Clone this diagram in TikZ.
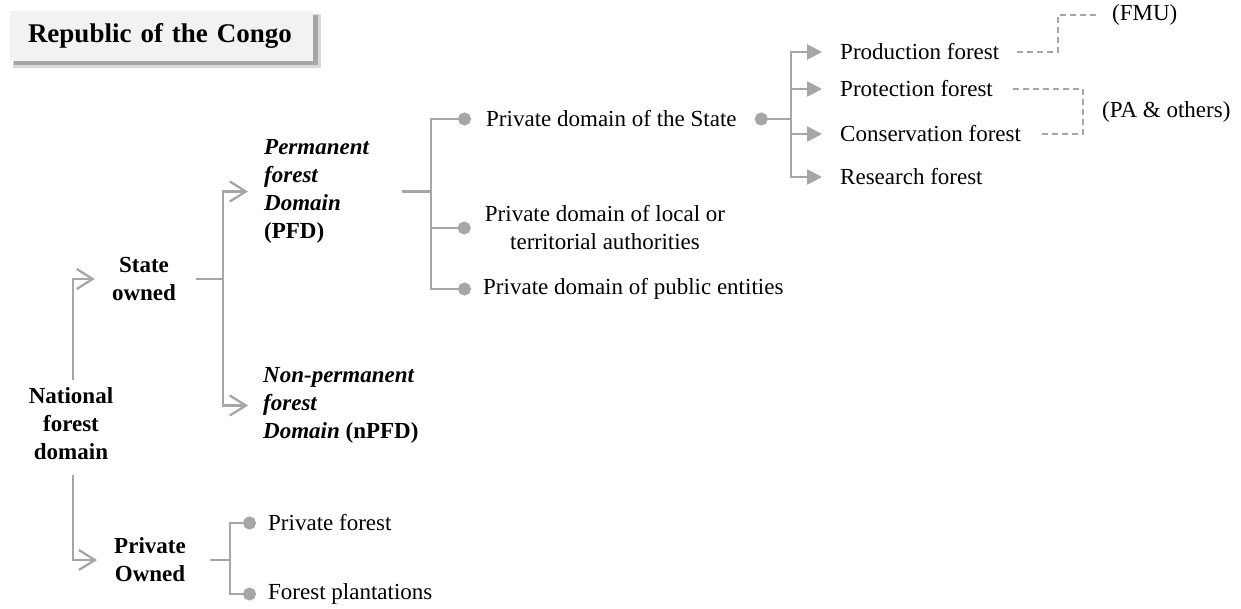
\documentclass[tikz,border=0pt]{standalone}
\usepackage{fontspec}
\setmainfont{Liberation Serif}
\usetikzlibrary{arrows.meta}
\definecolor{lg}{HTML}{A6A6A6}
\definecolor{boxfill}{HTML}{F2F2F2}
\begin{document}
\begin{tikzpicture}[x=1pt,y=-1pt,
  txt/.style={inner sep=0pt, anchor=west, font=\fontsize{23}{28}\selectfont},
  bld/.style={inner sep=0pt, anchor=center, align=center, font=\fontsize{23}{28}\selectfont\bfseries},
  titlebox/.style={fill=boxfill, text width=267pt, inner xsep=18pt, inner ysep=0pt, minimum height=50pt, align=left, font=\fontsize{27}{32}\selectfont\bfseries},
  gline/.style={draw=lg, line width=2.6pt},
  garrow/.style={gline, -{Straight Barb[length=16pt,width=20pt,line width=2.3pt]}},
  gtri/.style={gline, -{Triangle[length=15pt,width=15pt]}},
  gdot/.style={gline, -{Circle[length=13pt,width=13pt]}},
  dline/.style={draw=lg, line width=1.3pt, dash pattern=on 6pt off 4pt}]
\useasboundingbox (0,0) rectangle (1241,608);

% title with shadow
\fill[black!15] (13,14) rectangle (321,68);
\fill[black!35] (14,15) rectangle (318,65);
\node[titlebox] (title) at (161.5,36) {Republic of the Congo};

% nodes
\node[bld] (nfd) at (71,424) {National\\forest\\domain};
\node[bld] (state) at (144,279) {State\\owned};
\node[bld] (po) at (150,560) {Private\\Owned};
\node[txt, align=left, font=\fontsize{23}{28}\selectfont\bfseries] (pfd) at (264,191.5) {\textit{Permanent}\\\textit{forest}\\\textit{Domain}\\(PFD)};
\node[txt, align=left, font=\fontsize{23}{28}\selectfont\bfseries] (npfd) at (263,405.5) {\textit{Non-permanent}\\\textit{forest}\\\textit{Domain} (nPFD)};
\node[txt] (pds) at (486,119) {Private domain of the State};
\node[txt, align=center, anchor=center] (pdl) at (605,228) {Private domain of local or\\territorial authorities};
\node[txt] (pdp) at (483,289) {Private domain of public entities};
\node[txt] (prod) at (840,52) {Production forest};
\node[txt] (prot) at (840,89) {Protection forest};
\node[txt] (cons) at (840,134) {Conservation forest};
\node[txt] (res) at (840,177) {Research forest};
\node[txt] (fmu) at (1112,15) {(FMU)};
\node[txt] (pa) at (1102,112) {(PA \& others)};
\node[txt] (pf) at (268,523) {Private forest};
\node[txt] (fp) at (268,594) {Forest plantations};

% junctions
\coordinate (s1) at (223,279);
\coordinate (p1) at (431,191.5);
\coordinate (q1) at (791,119);
\coordinate (r1) at (230,560);
\coordinate (b1) at (1058,15);
\coordinate (b2) at (1083,112);

% connectors
\draw[garrow] ([xshift=2pt,yshift=8pt]nfd.north) |- ([xshift=-17pt]state.west);
\draw[garrow] ([xshift=2pt,yshift=-15pt]nfd.south) |- ([xshift=-17pt]po.west);

\draw[gline] ([xshift=20pt]state.east) -- (s1);
\draw[garrow] (s1) |- ([xshift=-16pt]pfd.west);
\draw[garrow] (s1) |- ([xshift=-15pt]npfd.west);

\draw[gline] ([xshift=32pt]pfd.east) -- (p1);
\draw[gdot] (p1) |- ([xshift=-15pt]pds.west);
\draw[gdot] (p1) |- ([xshift=-14pt]pdl.west);
\draw[gdot] (p1) |- ([xshift=-12pt]pdp.west);

\draw[gline,{Circle[length=13pt,width=13pt]}-] ([xshift=18pt]pds.east) -- (q1);
\draw[gtri] (q1) |- ([xshift=-18pt]prod.west);
\draw[gtri] (q1) |- ([xshift=-18pt]prot.west);
\draw[gtri] (q1) |- ([xshift=-18pt]cons.west);
\draw[gtri] (q1) |- ([xshift=-18pt]res.west);

\draw[dline] ([xshift=18pt]prod.east) -| (b1) -- ([xshift=-15pt]fmu.west);
\draw[dline] ([xshift=20pt]prot.east) -| (b2) |- ([xshift=21pt]cons.east);

\draw[gline] ([xshift=24pt]po.east) -- (r1);
\draw[gdot] (r1) |- ([xshift=-12pt]pf.west);
\draw[gdot] (r1) |- ([xshift=-12pt]fp.west);
\end{tikzpicture}
\end{document}
